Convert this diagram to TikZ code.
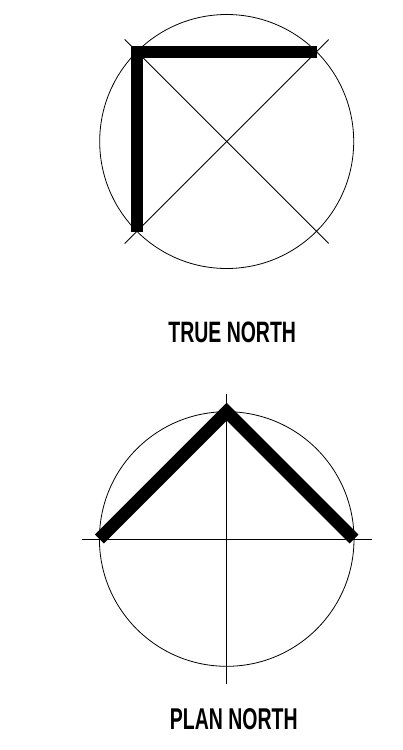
\documentclass[tikz,border=0pt]{standalone}
\usepackage{fontspec}
\setmainfont{Liberation Sans}
\usetikzlibrary{calc}
\begin{document}
\begin{tikzpicture}[x=1pt,y=-1pt,
  thin line/.style={line width=0.8pt},
  thick bar/.style={line width=12.7pt, line join=miter, line cap=butt},
  label text/.style={inner sep=0pt, anchor=center}]
\useasboundingbox (0,0) rectangle (403,750);
% TRUE NORTH symbol
\coordinate (tc) at (226.7,141.5);
\draw[thin line] (tc) circle [radius=127];
\draw[thin line] ($(tc)+(-102,-102)$) -- ($(tc)+(102,102)$);
\draw[thin line] ($(tc)+(-102,102)$) -- ($(tc)+(102,-102)$);
\draw[thick bar] ($(tc)+(-89.8,90.2)$) -- ($(tc)+(-89.8,-89.5)$) -- ($(tc)+(90,-89.5)$);
\node[label text] (tn) at (232.2,332) {\resizebox{127.7pt}{20.6pt}{\bfseries TRUE NORTH}};
% PLAN NORTH symbol
\coordinate (pc) at (226.7,539);
\draw[thin line] (pc) circle [radius=127.3];
\draw[thin line] ($(pc)+(-145,0)$) -- ($(pc)+(145,0)$);
\draw[thin line] ($(pc)+(0,-145)$) -- ($(pc)+(0,145)$);
\draw[thick bar] ($(pc)+(-127.3,0)$) -- ($(pc)+(0,-127.3)$) -- ($(pc)+(127.3,0)$);
\node[label text] (pn) at (233.8,718.8) {\resizebox{127.7pt}{21pt}{\bfseries PLAN NORTH}};
\end{tikzpicture}
\end{document}
